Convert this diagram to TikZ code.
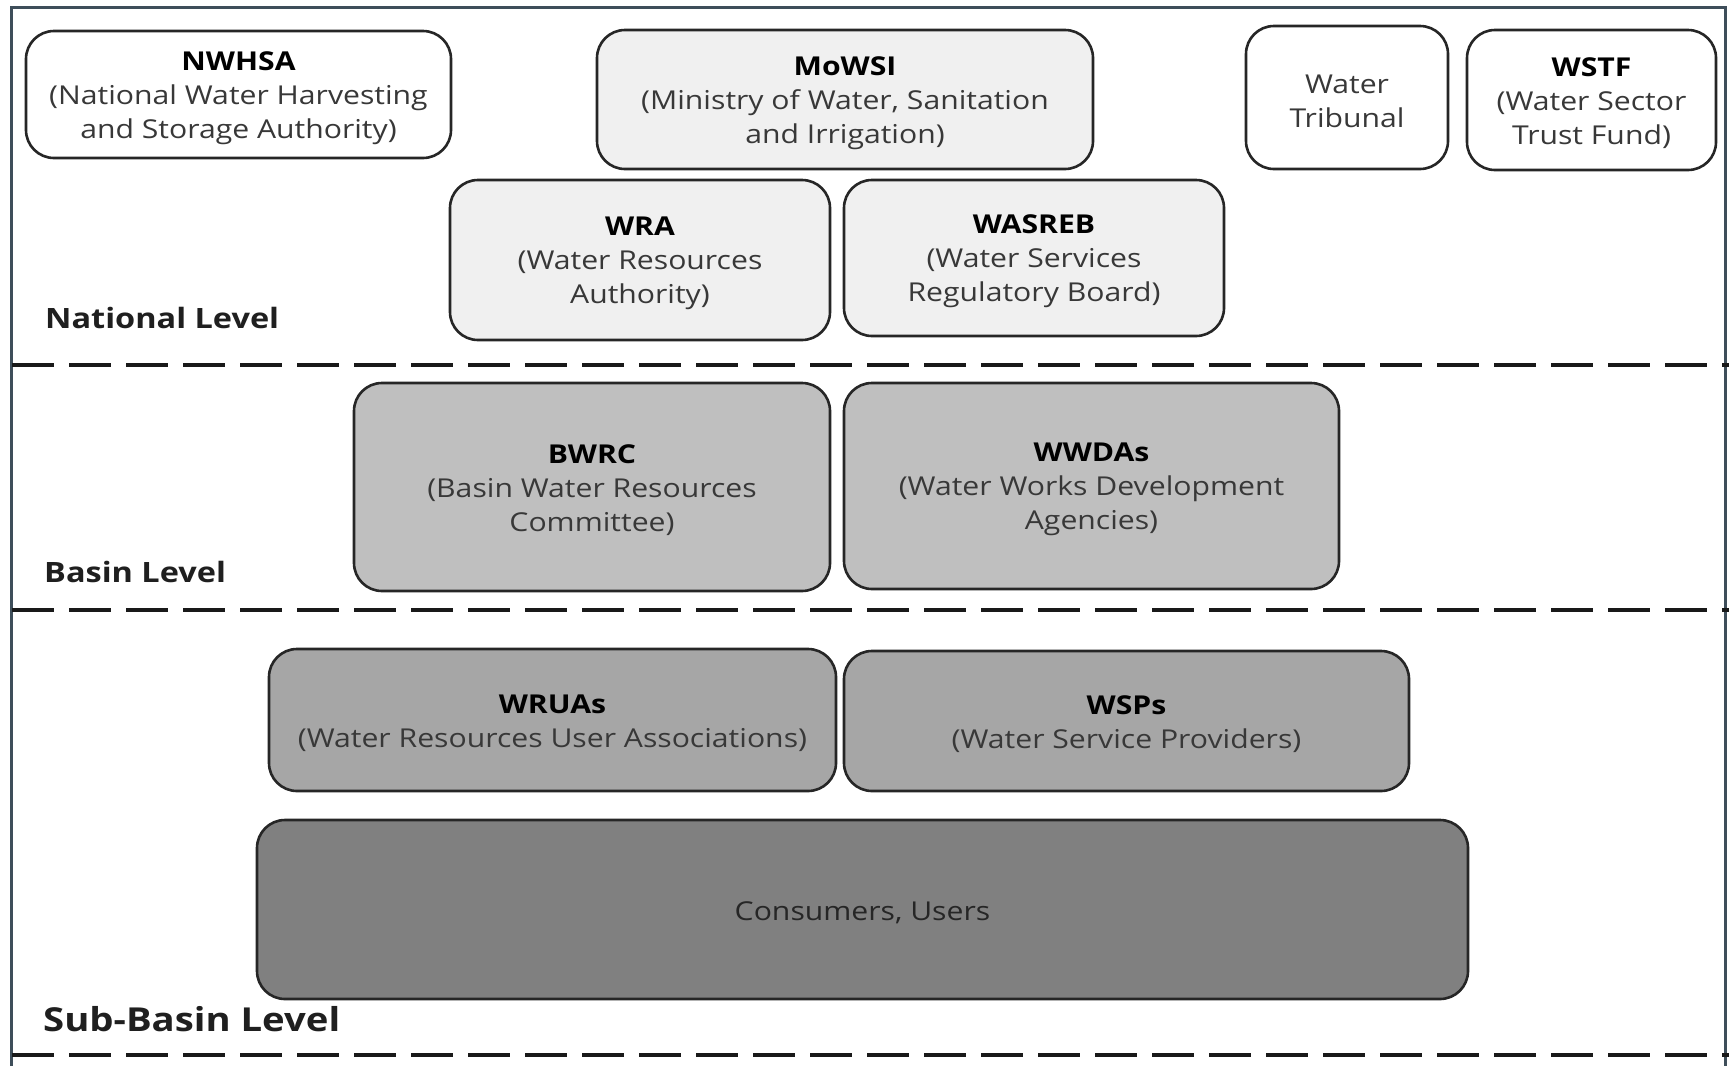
\documentclass[tikz,border=0pt]{standalone}
\usepackage{fontspec}
\setmainfont{Open Sans}[FakeStretch=1.16]
\definecolor{framec}{RGB}{62,78,90}
\begin{document}
\begin{tikzpicture}[x=1pt,y=-1pt,
  org/.style={draw=black!85,line width=2.6pt,rounded corners=28pt,inner sep=0pt},
  txt/.style={inner sep=0pt,align=center,font=\fontsize{26}{34}\selectfont,text=black!78,yshift=-3.5pt},
  lvl0/.style={org,fill=white},
  lvl1/.style={org,fill=black!6},
  lvl2/.style={org,fill=black!25},
  lvl3/.style={org,fill=black!35},
  lvl4/.style={org,fill=black!50},
  sep/.style={line width=4pt,dash pattern=on 42pt off 15pt,black!90},
  lvllabel/.style={anchor=west,inner sep=0pt,font=\bfseries\fontsize{28}{34}\selectfont,text=black!88},
  frame/.style={draw=framec,line width=3pt}
]
\useasboundingbox (0,0) rectangle (1729,1066);
\fill[white] (0,0) rectangle (1729,1066);
\coordinate (fbl) at (11,1066);
\coordinate (ftl) at (11,7);
\coordinate (ftr) at (1725,7);
\coordinate (fbr) at (1725,1066);
\draw[frame] (fbl) -- (ftl) -- (ftr) -- (fbr);

\node[lvl0,minimum width=425pt,minimum height=127pt] (nwhsa) at (238.5,94.5) {};
\node[txt] (nwhsat) at (nwhsa.center) {\textbf{\textcolor{black}{NWHSA}}\\(National Water Harvesting\\and Storage Authority)};
\node[lvl1,minimum width=496pt,minimum height=139pt] (mowsi) at (845,99.5) {};
\node[txt] (mowsit) at (mowsi.center) {\textbf{\textcolor{black}{MoWSI}}\\(Ministry of Water, Sanitation\\and Irrigation)};
\node[lvl0,minimum width=202pt,minimum height=143pt] (trib) at (1347,97.5) {};
\node[txt] (tribt) at (trib.center) {Water\\Tribunal};
\node[lvl0,minimum width=249pt,minimum height=140pt] (wstf) at (1591.5,100) {};
\node[txt] (wstft) at (wstf.center) {\textbf{\textcolor{black}{WSTF}}\\(Water Sector\\Trust Fund)};
\node[lvl1,minimum width=380pt,minimum height=160pt] (wra) at (640,260) {};
\node[txt] (wrat) at (wra.center) {\textbf{\textcolor{black}{WRA}}\\(Water Resources\\Authority)};
\node[lvl1,minimum width=380pt,minimum height=156pt] (wasreb) at (1034,258) {};
\node[txt] (wasrebt) at (wasreb.center) {\textbf{\textcolor{black}{WASREB}}\\(Water Services\\Regulatory Board)};
\node[lvllabel] (natl) at (45,318) {National Level};

\coordinate (s1l) at (12,365);
\coordinate (s1r) at (1729,365);
\draw[sep] (s1l) -- (s1r);

\node[lvl2,minimum width=476pt,minimum height=208pt] (bwrc) at (592,487) {};
\node[txt] (bwrct) at (bwrc.center) {\textbf{\textcolor{black}{BWRC}}\\(Basin Water Resources\\Committee)};
\node[lvl2,minimum width=495pt,minimum height=206pt] (wwdas) at (1091.5,486) {};
\node[txt] (wwdast) at (wwdas.center) {\textbf{\textcolor{black}{WWDAs}}\\(Water Works Development\\Agencies)};
\node[lvllabel] (basin) at (44,572) {Basin Level};

\coordinate (s2l) at (12,610);
\coordinate (s2r) at (1729,610);
\draw[sep] (s2l) -- (s2r);

\node[lvl3,minimum width=567pt,minimum height=142pt] (wruas) at (552.5,720) {};
\node[txt] (wruast) at (wruas.center) {\textbf{\textcolor{black}{WRUAs}}\\(Water Resources User Associations)};
\node[lvl3,minimum width=565pt,minimum height=140pt] (wsps) at (1126.5,721) {};
\node[txt] (wspst) at (wsps.center) {\textbf{\textcolor{black}{WSPs}}\\(Water Service Providers)};
\node[lvl4,minimum width=1211pt,minimum height=179pt] (cons) at (862.5,909.5) {};
\node[txt,text=black!85] (const) at (cons.center) {Consumers, Users};
\node[lvllabel,font=\bfseries\fontsize{33}{40}\selectfont] (sub) at (43,1019) {Sub-Basin Level};

\coordinate (s3l) at (12,1055);
\coordinate (s3r) at (1729,1055);
\draw[sep] (s3l) -- (s3r);
\end{tikzpicture}
\end{document}
